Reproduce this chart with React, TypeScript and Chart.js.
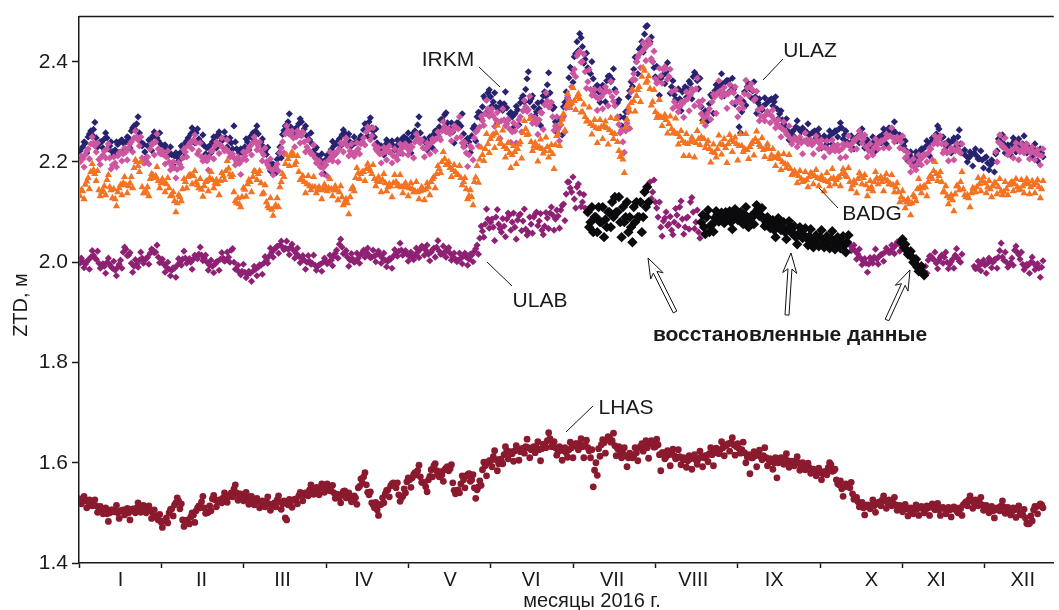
import React, { useEffect, useRef } from 'react';
import { Chart, registerables } from 'chart.js';

Chart.register(...registerables);

const _ = null;

// ---------- axis tick labels ----------
const MONTHS = ['I', 'II', 'III', 'IV', 'V', 'VI', 'VII', 'VIII', 'IX', 'X', 'XI', 'XII'];
const MONTH_LABEL_DAYS = [15, 45, 75, 105, 137, 167, 197, 227, 257, 293, 317, 349];
const Y_TICKS = [1.4, 1.6, 1.8, 2.0, 2.2, 2.4];

// ---------- ZTD values, mm; first sample of each day (day 0 .. 356) ----------
const IRKM = [
  2222,2230,2238,2250,2262,2265,2248,2236,2240,2246,2248,2232,2220,2224,2235,2242,2238,2240,2248,2262,2272,2276,2258,2232,2220,2232,2245,2252,2254,2242,2235,
  2232,2226,2220,2214,2212,2210,2218,2228,2238,2248,2256,2260,2258,2246,2238,2232,2228,2232,2240,2248,2254,2250,2246,2248,2244,2238,2272,2226,2218,2222,
  2230,2240,2250,2258,2262,2256,2240,2230,2215,2200,2192,2190,2205,2230,2255,2272,2280,2270,2262,2268,2276,2280,2266,2252,2244,2236,2225,2212,2204,2198,2205,
  2215,2225,2232,2238,2246,2254,2258,2250,2240,2236,2238,2242,2252,2264,2274,2280,2268,2250,2238,2230,2228,2234,2240,2236,2232,2230,2236,2244,2250,2246,
  2240,2250,2262,2274,2258,2244,2238,2240,2248,2256,2262,2270,2285,2294,2278,2266,2260,2270,2278,2272,2256,2244,2240,2252,2272,2290,2298,2310,2326,2338,2330,
  2320,2310,2306,2312,2316,2308,2296,2290,2296,2304,2318,2332,2345,2380,2326,2310,2300,2306,2320,2340,2354,2338,2306,2280,2270,2284,2310,2340,2368,2386,
  2410,2440,2456,2430,2405,2388,2376,2366,2350,2340,2338,2350,2362,2372,2365,2345,2318,2290,2270,2300,2330,2360,2385,2400,2425,2440,2455,2472,2440,2400,2370,
  2360,2366,2374,2380,2370,2350,2334,2322,2326,2340,2350,2346,2356,2370,2374,2346,2310,2296,2300,2316,2330,2342,2348,2352,2356,2360,2362,2352,2345,2320,2270,
  2300,2340,2350,2346,2342,2330,2318,2310,2312,2316,2322,2326,2320,2306,2296,2284,2272,2262,2256,2262,2270,2266,2260,2264,2260,2254,2258,2262,2256,2248,
  2246,2244,2248,2254,2258,2262,2266,2268,2254,2240,2236,2242,2246,2252,2256,2248,2238,2234,2236,2240,2244,2250,2254,2258,2260,2262,2264,2258,2252,2246,2232,
  2222,2214,2208,2206,2214,2222,2226,2230,2234,2240,2248,2256,2266,2248,2236,2232,2238,2242,2240,2250,2236,2220,2212,2208,2214,2218,2212,2206,2204,2208,
  2198,2194,2200,2216,2246,2240,2236,2230,2226,2236,2242,2238,2232,2236,2234,2226,2224,2226,2222,2220,2218,
];
// second (12-hour) sample of each day
const IRKM_B = [
  2208,2240,2218,2256,2254,2279,2230,2240,2228,2258,2226,2240,2214,2240,2219,2244,2224,2250,2228,2268,2264,2290,2240,2236,2208,2244,2223,2260,2248,2258,2219,
  2234,2212,2230,2194,2218,2202,2232,2210,2242,2236,2268,2238,2266,2240,2254,2216,2230,2218,2250,2228,2260,2242,2260,2230,2248,2226,2240,2204,2226,2216,
  2246,2224,2252,2244,2272,2236,2246,2222,2229,2182,2196,2178,2217,2208,2263,2266,2296,2254,2264,2254,2286,2260,2272,2244,2258,2218,2229,2200,2216,2176,2213,
  2209,2241,2216,2240,2232,2264,2238,2256,2232,2250,2220,2246,2240,2276,2252,2288,2262,2266,2222,2232,2214,2244,2220,2242,2224,2244,2218,2248,2238,2258,
  2218,2258,2256,2290,2242,2246,2224,2250,2228,2262,2254,2284,2267,2298,2266,2278,2238,2278,2269,2296,2232,2247,2219,2267,2242,2299,2286,2331,2299,2344,2312,
  2338,2277,2318,2303,2340,2284,2299,2269,2311,2274,2327,2320,2366,2320,2332,2292,2318,2273,2332,2331,2378,2314,2309,2259,2285,2254,2319,2328,2389,2359,
  2416,2422,2448,2397,2417,2379,2400,2342,2353,2319,2353,2320,2371,2360,2386,2318,2324,2272,2288,2267,2342,2351,2409,2376,2428,2419,2470,2442,2449,2388,2391,
  2333,2372,2356,2398,2337,2362,2325,2346,2302,2343,2329,2361,2326,2379,2362,2367,2283,2302,2282,2334,2297,2354,2339,2376,2332,2363,2341,2367,2315,2329,2258,
  2321,2313,2356,2328,2360,2297,2326,2304,2328,2300,2324,2312,2330,2286,2302,2276,2286,2244,2260,2250,2282,2244,2268,2258,2276,2238,2260,2248,2266,2228,
  2252,2236,2262,2236,2262,2250,2278,2246,2262,2234,2252,2226,2248,2238,2266,2228,2244,2226,2250,2222,2248,2238,2266,2236,2268,2256,2280,2242,2254,2232,2242,
  2202,2220,2200,2220,2196,2226,2214,2242,2212,2248,2242,2272,2250,2250,2222,2242,2218,2248,2232,2264,2218,2224,2200,2220,2192,2226,2206,2222,2188,2210,
  2184,2204,2180,2222,2238,2254,2218,2234,2214,2248,2220,2246,2226,2252,2218,2228,2210,2236,2202,2226,2210,
];

const ULAZ = [
  2200,2206,2214,2226,2236,2238,2220,2205,2210,2222,2226,2208,2194,2198,2212,2220,2216,2220,2228,2240,2248,2250,2232,2208,2198,2210,2226,2236,2240,2226,2216,
  2214,2210,2200,2192,2188,2185,2195,2208,2220,2232,2240,2244,2238,2222,2210,2204,2202,2210,2222,2232,2237,2234,2228,2226,2220,2212,2208,2200,2197,2204,
  2212,2222,2232,2238,2240,2232,2222,2214,2200,2188,2184,2186,2196,2218,2240,2256,2263,2256,2248,2250,2254,2252,2240,2230,2222,2216,2208,2198,2190,2188,2194,
  2204,2210,2212,2218,2226,2236,2240,2232,2222,2217,2220,2226,2236,2248,2260,2266,2252,2234,2222,2216,2217,2220,2224,2218,2212,2210,2218,2226,2232,2228,
  2222,2230,2240,2248,2238,2228,2226,2232,2238,2242,2246,2250,2262,2270,2262,2256,2262,2270,2266,2250,2230,2218,2214,2228,2248,2262,2270,2282,2296,2306,2300,
  2292,2284,2280,2282,2284,2276,2266,2260,2262,2272,2290,2302,2310,2304,2292,2282,2276,2284,2298,2314,2322,2310,2290,2272,2266,2274,2290,2308,2322,2350,
  2385,2412,2420,2400,2380,2360,2345,2336,2330,2326,2330,2338,2342,2340,2330,2312,2290,2258,2240,2262,2300,2340,2376,2400,2415,2420,2426,2432,2436,2400,2366,
  2360,2372,2384,2386,2370,2340,2320,2312,2310,2316,2322,2326,2334,2342,2346,2320,2296,2288,2292,2306,2320,2330,2338,2342,2340,2334,2336,2342,2338,2320,2306,
  2316,2336,2348,2350,2344,2326,2304,2292,2290,2294,2296,2292,2284,2276,2270,2266,2262,2254,2246,2244,2244,2240,2238,2242,2244,2238,2234,2240,2242,2236,
  2230,2228,2226,2226,2232,2230,2222,2226,2232,2236,2232,2238,2244,2250,2254,2246,2230,2222,2220,2228,2236,2238,2242,2246,2250,2252,2248,2244,2246,2240,2224,
  2210,2200,2192,2190,2196,2204,2210,2214,2218,2226,2236,2244,2246,2236,2224,2218,2220,2224,2222,2226,2218,_,_,_,_,_,_,_,_,_,
  _,_,_,2220,2240,2236,2230,2224,2218,2222,2228,2226,2220,2226,2230,2224,2218,2220,2216,2214,2212,
];
const ULAZ_B = [
  2212,2190,2222,2206,2250,2232,2238,2195,2214,2208,2236,2186,2210,2190,2218,2202,2228,2204,2236,2220,2262,2244,2250,2198,2202,2196,2236,2214,2256,2218,2222,
  2196,2222,2184,2200,2168,2199,2189,2226,2210,2236,2226,2254,2216,2238,2202,2210,2184,2222,2206,2240,2217,2248,2222,2244,2210,2216,2194,2210,2175,2220,
  2204,2228,2214,2250,2224,2240,2202,2228,2194,2206,2174,2190,2182,2228,2218,2272,2255,2262,2230,2262,2238,2260,2220,2244,2216,2234,2198,2202,2176,2198,2172,
  2220,2202,2218,2200,2238,2220,2248,2212,2236,2211,2238,2216,2240,2234,2270,2244,2268,2226,2228,2198,2229,2204,2232,2198,2226,2204,2236,2216,2236,2214,
  2232,2208,2256,2240,2244,2210,2238,2216,2246,2222,2260,2244,2280,2260,2266,2242,2272,2248,2290,2238,2239,2191,2232,2204,2260,2232,2291,2273,2323,2291,2306,
  2271,2299,2247,2306,2272,2285,2239,2278,2238,2284,2260,2323,2301,2331,2277,2288,2255,2299,2265,2338,2310,2319,2263,2290,2242,2286,2260,2329,2313,2377,
  2370,2418,2399,2415,2347,2384,2333,2345,2303,2344,2306,2350,2312,2361,2321,2339,2275,2264,2219,2277,2267,2364,2364,2409,2388,2438,2402,2444,2406,2421,2357,
  2387,2357,2390,2365,2385,2307,2344,2300,2319,2289,2340,2302,2346,2312,2367,2311,2323,2273,2298,2285,2335,2297,2362,2330,2349,2307,2354,2318,2350,2290,2327,
  2307,2363,2333,2356,2323,2341,2282,2308,2282,2300,2278,2304,2268,2284,2250,2280,2256,2272,2236,2248,2230,2250,2216,2258,2236,2244,2216,2252,2226,2244,
  2210,2242,2220,2244,2222,2234,2208,2236,2210,2252,2224,2244,2226,2262,2238,2254,2210,2236,2214,2246,2226,2242,2228,2256,2228,2268,2240,2250,2228,2252,2208,
  2218,2180,2206,2184,2214,2194,2214,2200,2228,2204,2252,2236,2252,2218,2236,2202,2228,2204,2236,2220,2236,_,_,_,_,_,_,_,_,_,
  _,_,_,2200,2254,2230,2248,2214,2222,2208,2238,2204,2236,2218,2236,2206,2230,2204,2224,2194,2226,
];

const BADG = [
  2132,2142,2155,2168,2180,2184,2162,2144,2140,2152,2164,2150,2128,2126,2140,2154,2158,2154,2152,2170,2188,2200,2180,2150,2138,2150,2166,2174,2172,2162,2158,
  2160,2156,2148,2134,2122,2118,2130,2146,2160,2170,2174,2172,2160,2148,2145,2152,2162,2168,2164,2158,2156,2162,2172,2182,2187,2170,2140,2118,2116,2130,
  2145,2156,2160,2170,2180,2176,2158,2138,2120,2108,2105,2110,2128,2150,2176,2196,2206,2212,2214,2200,2180,2166,2160,2156,2152,2150,2150,2146,2144,2145,2148,
  2148,2146,2144,2144,2140,2130,2120,2118,2130,2150,2168,2178,2176,2180,2186,2188,2176,2166,2162,2160,2164,2158,2150,2152,2158,2160,2154,2150,2154,2150,
  2148,2146,2142,2140,2142,2144,2146,2150,2160,2170,2176,2186,2200,2206,2196,2188,2184,2180,2174,2168,2160,2146,2132,2130,2160,2192,2205,2214,2226,2236,2246,
  2255,2258,2246,2236,2230,2226,2218,2214,2220,2226,2240,2258,2266,2256,2240,2232,2228,2230,2226,2222,2230,2222,2216,2234,2256,2276,2296,2312,2320,2318,
  2322,2330,2326,2300,2290,2282,2276,2272,2268,2266,2270,2272,2268,2264,2258,2256,2240,2210,2205,2270,2310,2318,2322,2332,2350,2370,2382,2362,2346,2320,2300,
  2294,2290,2288,2284,2276,2266,2260,2256,2250,2242,2238,2236,2240,2242,2238,2246,2250,2246,2236,2226,2220,2218,2226,2236,2234,2228,2236,2244,2240,2236,2232,
  2232,2226,2224,2230,2240,2246,2240,2230,2224,2228,2226,2214,2208,2210,2206,2200,2196,2194,2186,2178,2176,2172,2166,2162,2164,2170,2176,2172,2168,2166,
  2164,2162,2160,2166,2168,2164,2170,2176,2178,2170,2160,2154,2158,2166,2172,2168,2154,2146,2150,2160,2168,2166,2160,2166,2162,2156,2154,2150,2140,2130,2124,
  2120,2116,2118,2130,2146,2150,2148,2150,2160,2172,2182,2176,2172,2160,2140,2132,2128,2124,2136,2152,2160,2146,2130,2128,2138,2146,2150,2156,2162,2158,
  2150,2146,2152,2158,2150,2142,2140,2146,2154,2160,2156,2150,2146,2152,2158,2156,2150,2154,2158,2150,2146,
];
const BADG_B = [
  2144,2126,2161,2146,2196,2176,2182,2132,2144,2134,2174,2144,2146,2112,2148,2134,2170,2138,2158,2148,2204,2192,2200,2138,2142,2132,2176,2168,2190,2148,2166,
  2140,2168,2132,2140,2100,2134,2122,2166,2148,2174,2156,2182,2154,2166,2131,2160,2142,2180,2148,2164,2134,2178,2164,2202,2175,2174,2122,2128,2110,2148,
  2131,2164,2140,2182,2164,2182,2136,2154,2112,2128,2093,2114,2110,2160,2170,2214,2192,2220,2194,2212,2164,2172,2138,2172,2144,2170,2138,2150,2126,2155,2142,
  2166,2132,2152,2124,2152,2114,2126,2096,2146,2142,2188,2166,2180,2162,2196,2182,2194,2152,2170,2140,2176,2142,2156,2130,2174,2152,2174,2138,2158,2132,
  2158,2140,2160,2126,2150,2124,2158,2134,2166,2148,2192,2178,2220,2194,2200,2170,2194,2174,2192,2154,2168,2126,2144,2114,2169,2159,2229,2202,2256,2218,2252,
  2228,2273,2237,2263,2209,2238,2188,2232,2196,2235,2207,2282,2254,2286,2222,2238,2201,2245,2217,2249,2209,2234,2186,2252,2232,2285,2263,2336,2308,2348,
  2304,2336,2299,2315,2281,2309,2255,2284,2238,2284,2246,2281,2235,2288,2246,2286,2222,2216,2178,2285,2301,2345,2301,2344,2320,2388,2358,2371,2313,2344,2288,
  2324,2272,2294,2257,2291,2257,2287,2235,2262,2212,2256,2212,2249,2209,2262,2234,2280,2228,2242,2199,2235,2209,2253,2215,2246,2198,2254,2220,2249,2203,2256,
  2220,2256,2206,2236,2213,2261,2234,2248,2210,2236,2206,2226,2192,2216,2184,2216,2188,2214,2174,2182,2158,2182,2160,2180,2150,2178,2156,2184,2152,2172,
  2142,2178,2152,2186,2156,2168,2152,2186,2172,2188,2146,2162,2138,2178,2156,2174,2132,2162,2142,2180,2156,2170,2142,2176,2156,2174,2140,2158,2120,2142,2108,
  2126,2094,2134,2122,2166,2138,2152,2132,2170,2166,2200,2162,2180,2140,2152,2116,2134,2102,2152,2144,2180,2134,2134,2110,2148,2140,2168,2142,2170,2138,
  2162,2130,2158,2136,2166,2134,2160,2134,2158,2142,2166,2144,2164,2138,2166,2136,2162,2138,2164,2128,2162,
];

const ULAB = [
  1998,2002,1996,2004,2010,2014,2006,1998,1994,1992,2000,1996,1988,1984,1990,2004,2020,2026,2014,1998,1992,1996,2004,2008,2004,2010,2018,2024,2020,2010,2000,
  1996,1990,1986,1984,1988,1994,2000,2006,2008,2004,2000,2006,2012,2016,2014,2008,2000,1994,1992,1996,2002,2006,2008,2004,2010,2024,2000,1986,1980,1982,
  1980,1976,1978,1982,1986,1990,1994,1998,2004,2012,2020,2026,2032,2034,2030,2028,2026,2030,2024,2018,2012,2008,2004,2000,2002,1998,1994,1992,1996,2000,2002,
  2000,2004,2012,2024,2036,2030,2018,2010,2004,2006,2002,2008,2016,2024,2020,2014,2010,2012,2016,2014,2008,2004,2002,2006,2012,2018,2022,2024,2020,2016,
  2012,2010,2014,2020,2026,2030,2024,2016,2020,2028,2030,2022,2016,2020,2026,2018,2010,2006,2004,2008,2012,2010,2006,2014,2022,2034,2048,2062,2076,2086,2080,
  2070,2090,2076,2060,2072,2086,2094,2080,2070,2084,2096,2082,2066,2060,2076,2090,2100,2082,2064,2072,2088,2098,2094,2086,2092,2104,2116,2136,2160,2140,
  2126,2150,2138,2120,2108,_,_,_,_,_,_,_,_,_,_,_,_,_,_,_,_,_,_,_,_,_,_,_,2160,2140,2120,
  2090,2070,2082,2100,2076,2064,2080,2094,2110,2086,2070,2090,2120,2100,2080,2060,_,_,_,_,_,_,_,_,_,_,_,_,_,_,_,
  _,_,_,_,_,_,_,_,_,_,_,_,_,_,_,_,_,_,_,_,_,_,_,_,_,_,_,_,_,_,
  _,_,_,_,_,_,_,_,_,_,2034,2028,2022,2016,2008,2002,1998,1996,2004,2010,2006,2012,2016,2020,2024,2020,2028,2034,2038,_,_,
  _,_,_,_,_,_,_,1992,2004,2012,2006,1998,2004,2014,2010,2000,1996,2006,2014,2008,2000,_,_,_,_,1992,1988,1994,1998,1994,
  1998,2002,2000,2006,2010,2038,2004,2000,1996,2008,2024,2020,2006,1996,1990,1994,2000,1998,1992,1988,1990,
];
const ULAB_B = [
  2008,1989,2001,1986,2023,2008,2022,1988,1997,1978,2008,1991,2002,1973,1996,1988,2030,2013,2019,1980,2005,1990,2020,1998,2007,1996,2026,2019,2034,1999,2006,
  1980,2000,1973,1989,1970,2007,1994,2022,1998,2007,1986,2014,2007,2030,2003,2014,1984,2004,1979,2001,1984,2019,2002,2020,2000,2027,1986,1994,1975,1996,
  1969,1982,1962,1992,1973,1995,1976,2011,1998,2028,2010,2029,2018,2042,2025,2042,2015,2036,2008,2028,1999,2013,1986,2013,1996,2014,1984,1995,1982,2008,1997,
  2014,1993,2018,2008,2046,2017,2023,1992,2017,2000,2018,1998,2019,2010,2028,2009,2024,2001,2022,1998,2018,1991,2007,1988,2025,2012,2038,2014,2023,2002,
  2020,2005,2028,2009,2032,2014,2034,2003,2025,2010,2043,2016,2032,2010,2029,2004,2018,2001,2018,1997,2018,1994,2016,2001,2027,2016,2072,2050,2106,2068,2086,
  2043,2105,2067,2087,2051,2098,2064,2098,2046,2093,2063,2106,2054,2090,2058,2096,2073,2097,2055,2099,2067,2110,2064,2104,2068,2113,2083,2160,2148,2170,
  2108,2156,2111,2135,2099,_,_,_,_,_,_,_,_,_,_,_,_,_,_,_,_,_,_,_,_,_,_,_,2127,2164,2108,
  2120,2052,2088,2073,2091,2055,2107,2073,2122,2056,2088,2066,2129,2067,2104,2048,_,_,_,_,_,_,_,_,_,_,_,_,_,_,_,
  _,_,_,_,_,_,_,_,_,_,_,_,_,_,_,_,_,_,_,_,_,_,_,_,_,_,_,_,_,_,
  _,_,_,_,_,_,_,_,_,_,2023,2034,2006,2026,1995,2007,1980,2009,1998,2026,1996,2015,2002,2028,2019,2034,2017,2040,2022,_,_,
  _,_,_,_,_,_,_,1978,2012,2007,2020,1987,2010,1998,2020,1987,2001,1988,2027,2002,2016,_,_,_,_,1987,2002,1983,2004,1978,
  2008,1989,2005,1988,2023,2010,2020,1990,1999,1994,2032,2015,2020,1985,1996,1978,2010,1985,1997,1970,2003,
];

// restored (reconstructed) ULAB values, with the day each block starts
const REST_JUL_FROM = 188;
const REST_JUL = [2100,2080,2060,2090,2110,2080,2050,2070,2100,2120,2130,2100,2080,2110,2090,2060,2070,2110,2120,2090,2060,2140,2150];
const REST_JUL_B = [2070,2110,2090,2060,2080,2110,2085,2100,2070,2090,2100,2130,2050,2080,2120,2090,2040,2080,2090,2120,2090,2110,2120];
const REST_AUG_FROM = 230;
const REST_AUG = [
  2080,2070,2090,2060,2075,2088,2095,2085,2092,2100,2088,2080,2092,2098,2086,2090,2096,2084,2078,2090,
  2100,2106,2094,2086,2076,2082,2070,2064,2074,2078,2066,2060,2068,2072,2058,2050,2056,2062,2054,2048,
  2052,2044,2040,2046,2050,2044,2038,2042,2048,2040,2036,2042,2038,2034,2040,
];
const REST_AUG_B = [
  2094,2056,2104,2074,2061,2102,2081,2099,2078,2086,2102,2066,2106,2084,2100,2076,2110,2070,2092,2076,
  2114,2092,2108,2072,2090,2068,2084,2050,2088,2064,2080,2046,2082,2058,2072,2036,2070,2048,2068,2034,
  2066,2030,2054,2032,2064,2030,2052,2028,2062,2026,2050,2028,2052,2020,2054,
];
const REST_OCT_FROM = 304;
const REST_OCT = [2040,2030,2024,2016,2010,1998,1990,1984,1980];
const REST_OCT_B = [2046,2036,2016,2022,2000,2006,1982,1992,1974];

const LHAS = [
  1528,1526,1524,1522,1520,1516,1514,1510,1506,1502,1498,1500,1506,1504,1500,1504,1506,1502,1500,1504,1506,1510,1514,1512,1508,1506,1504,1500,1494,1486,1482,
  1484,1490,1500,1508,1516,1530,1508,1486,1482,1486,1492,1496,1504,1514,1522,1510,1500,1514,1528,1526,1522,1526,1530,1534,1532,1540,1548,1540,1532,1528,
  1530,1528,1532,1526,1522,1524,1520,1518,1522,1518,1514,1520,1526,1522,1518,1490,1516,1522,1526,1528,1534,1538,1536,1540,1546,1550,1548,1544,1550,1556,1552,
  1548,1544,1540,1536,1530,1536,1544,1536,1528,1524,1530,1550,1568,1572,1556,1536,1520,1510,1506,1516,1530,1538,1546,1554,1560,1550,1536,1530,1548,1562,
  1566,1570,1580,1584,1572,1560,1552,1566,1586,1594,1584,1572,1576,1586,1592,1588,1560,1538,1546,1558,1566,1574,1578,1566,1550,1546,1564,1586,1594,1600,1604,
  1612,1606,1598,1604,1616,1624,1620,1618,1624,1626,1622,1628,1632,1630,1626,1632,1630,1626,1628,1636,1644,1648,1640,1630,1622,1626,1624,1620,1626,1630,
  1634,1638,1636,1632,1636,1630,1610,1552,1600,1628,1636,1640,1646,1650,1644,1634,1628,1622,1618,1614,1610,1616,1614,1620,1630,1638,1634,1630,1638,1640,1632,
  1636,1584,1620,1612,1616,1618,1614,1610,1612,1608,1606,1604,1608,1610,1606,1608,1612,1610,1614,1618,1616,1620,1624,1626,1630,1634,1638,1640,1636,1632,1628,
  1626,1620,1612,1578,1610,1614,1616,1612,1614,1610,1606,1602,1600,1570,1604,1606,1608,1604,1600,1602,1604,1600,1594,1590,1588,1590,1586,1584,1582,1580,
  1578,1582,1590,1596,1584,1566,1556,1548,1552,1556,1550,1538,1530,1522,1514,1510,1512,1514,1516,1514,1518,1522,1526,1524,1520,1518,1520,1516,1514,1512,1510,
  1508,1506,1504,1506,1508,1510,1508,1506,1510,1512,1510,1508,1506,1510,1508,1504,1506,1508,1510,1500,1508,1516,1522,1526,1524,1520,1518,1520,1516,1514,
  1510,1506,1504,1506,1510,1514,1512,1508,1504,1502,1506,1508,1500,1496,1490,1478,1494,1506,1512,1514,1516,
];
const LHAS_B = [
  1518,1533,1510,1526,1514,1526,1501,1513,1498,1510,1483,1506,1502,1515,1489,1505,1496,1509,1486,1508,1500,1520,1501,1515,1500,1514,1489,1506,1490,1497,1471,
  1485,1480,1507,1494,1520,1524,1518,1473,1485,1478,1500,1481,1510,1510,1533,1499,1501,1504,1535,1512,1526,1520,1540,1521,1535,1532,1556,1525,1538,1524,
  1541,1517,1533,1516,1529,1510,1524,1512,1532,1505,1517,1512,1534,1507,1524,1486,1527,1511,1527,1518,1541,1524,1540,1534,1556,1537,1551,1536,1558,1541,1558,
  1544,1555,1529,1537,1520,1543,1530,1540,1522,1534,1517,1553,1560,1580,1541,1542,1516,1521,1495,1517,1520,1545,1532,1558,1554,1560,1523,1533,1540,1570,
  1551,1576,1576,1595,1561,1561,1542,1573,1572,1598,1578,1582,1563,1589,1584,1596,1545,1544,1540,1574,1550,1576,1563,1576,1529,1552,1555,1601,1574,1604,1592,
  1624,1584,1607,1598,1632,1608,1622,1603,1634,1605,1628,1619,1647,1610,1630,1620,1642,1604,1637,1630,1660,1632,1642,1615,1632,1605,1630,1611,1641,1610,
  1638,1626,1648,1610,1645,1624,1626,1585,1575,1613,1646,1619,1652,1641,1659,1614,1632,1610,1630,1592,1619,1610,1630,1604,1632,1623,1644,1609,1644,1631,1647,
  1616,1620,1608,1624,1594,1627,1608,1626,1596,1610,1591,1614,1587,1616,1597,1623,1592,1614,1602,1630,1594,1629,1618,1642,1614,1636,1623,1650,1615,1638,1619,
  1641,1600,1616,1610,1622,1592,1625,1606,1630,1594,1608,1587,1610,1600,1610,1597,1618,1591,1603,1594,1612,1585,1600,1586,1599,1579,1587,1574,1589,1566,
  1582,1576,1600,1583,1587,1558,1564,1533,1558,1552,1561,1527,1531,1512,1521,1496,1516,1508,1526,1501,1521,1514,1534,1509,1526,1514,1531,1505,1515,1502,1517,
  1494,1510,1498,1516,1495,1513,1500,1514,1495,1518,1506,1519,1495,1511,1498,1511,1492,1512,1504,1510,1495,1519,1514,1534,1509,1526,1514,1531,1505,1515,
  1500,1513,1490,1510,1504,1524,1499,1511,1496,1510,1491,1514,1496,1507,1479,1479,1484,1513,1498,1518,1510,
];

// ---------- layout / style ----------
const W = 1059;
const H = 610;
const FONT = '"Liberation Sans", Arial, Helvetica, sans-serif';
const INK = '#1a1a1a';
const X_MIN = -0.37;
const X_MAX = 360.5;
const MONTH_SPAN = 30.49;

function toPoints(arr: (number | null)[], start = 0) {
  const out: { x: number; y: number }[] = [];
  arr.forEach((v, i) => {
    if (v !== null) out.push({ x: start + i, y: v / 1000 });
  });
  return out;
}

function both(a: (number | null)[], b: (number | null)[], start = 0) {
  return [...toPoints(a, start), ...toPoints(b, start + 0.5)];
}

function hollowArrow(ctx: CanvasRenderingContext2D, x1: number, y1: number, x2: number, y2: number) {
  const dx = x2 - x1;
  const dy = y2 - y1;
  const L = Math.hypot(dx, dy);
  const ux = dx / L;
  const uy = dy / L;
  const nx = -uy;
  const ny = ux;
  const headL = 20;
  const headW = 7;
  const notch = 4;
  const shaftW = 2;
  const bx = x2 - ux * headL;
  const by = y2 - uy * headL;
  const ix = x2 - ux * (headL - notch);
  const iy = y2 - uy * (headL - notch);
  ctx.save();
  ctx.beginPath();
  ctx.moveTo(x2, y2);
  ctx.lineTo(bx + nx * headW, by + ny * headW);
  ctx.lineTo(ix + nx * shaftW, iy + ny * shaftW);
  ctx.lineTo(x1 + nx * shaftW, y1 + ny * shaftW);
  ctx.lineTo(x1 - nx * shaftW, y1 - ny * shaftW);
  ctx.lineTo(ix - nx * shaftW, iy - ny * shaftW);
  ctx.lineTo(bx - nx * headW, by - ny * headW);
  ctx.closePath();
  ctx.fillStyle = '#ffffff';
  ctx.fill();
  ctx.lineWidth = 1;
  ctx.strokeStyle = '#111111';
  ctx.stroke();
  ctx.restore();
}

const annotationPlugin = {
  id: 'ztdAnnotations',
  afterDatasetsDraw(chart: any) {
    const ctx: CanvasRenderingContext2D = chart.ctx;
    const area = chart.chartArea;
    ctx.save();
    // top frame line
    ctx.strokeStyle = INK;
    ctx.lineWidth = 1.5;
    ctx.beginPath();
    ctx.moveTo(area.left, area.top);
    ctx.lineTo(area.right, area.top);
    ctx.stroke();

    ctx.fillStyle = INK;
    ctx.font = `21px ${FONT}`;
    ctx.textAlign = 'center';
    ctx.textBaseline = 'alphabetic';
    const labels = [
      { t: 'IRKM', x: 448, y: 66, l: [479, 67, 500, 87] },
      { t: 'ULAZ', x: 810, y: 57, l: [783, 59, 763, 80] },
      { t: 'BADG', x: 872, y: 220, l: [838, 208, 819, 188] },
      { t: 'ULAB', x: 540, y: 307, l: [512, 286, 487, 262] },
      { t: 'LHAS', x: 626, y: 414, l: [593, 406, 566, 432] },
    ];
    ctx.lineWidth = 1;
    for (const a of labels) {
      ctx.fillText(a.t, a.x, a.y);
      ctx.beginPath();
      ctx.moveTo(a.l[0], a.l[1]);
      ctx.lineTo(a.l[2], a.l[3]);
      ctx.stroke();
    }

    hollowArrow(ctx, 675, 312, 648, 258);
    hollowArrow(ctx, 787, 315, 791, 253);
    hollowArrow(ctx, 887, 320, 910, 270);

    ctx.fillStyle = INK;
    ctx.font = `bold 21px ${FONT}`;
    ctx.fillText('восстановленные данные', 790, 341);

    // axis titles
    ctx.font = `20px ${FONT}`;
    ctx.fillText('месяцы 2016 г.', 592, 607);
    ctx.translate(27, 305);
    ctx.rotate(-Math.PI / 2);
    ctx.fillText('ZTD, м', 0, 0);
    ctx.restore();
  },
};

export default function App() {
  const ref = useRef<HTMLCanvasElement | null>(null);

  useEffect(() => {
    document.body.style.margin = '0';
    const canvas = ref.current;
    if (!canvas) return;

    const boundaries = MONTHS.map((_m, k) => X_MIN + MONTH_SPAN * k);
    const xTicks = [...boundaries, ...MONTH_LABEL_DAYS].sort((a, b) => a - b);

    const restored = [
      ...both(REST_JUL, REST_JUL_B, REST_JUL_FROM),
      ...both(REST_AUG, REST_AUG_B, REST_AUG_FROM),
      ...both(REST_OCT, REST_OCT_B, REST_OCT_FROM),
    ];

    const common = { borderWidth: 0, pointBorderWidth: 0 };

    const chart = new Chart(canvas, {
      type: 'scatter',
      data: {
        datasets: [
          { label: 'LHAS', data: both(LHAS, LHAS_B), pointStyle: 'circle', pointRadius: 3.4, backgroundColor: '#8b1a2f', ...common },
          { label: 'restored', data: restored, pointStyle: 'rectRot', pointRadius: 5.2, backgroundColor: '#0b0b0e', ...common },
          { label: 'ULAB', data: both(ULAB, ULAB_B), pointStyle: 'rectRot', pointRadius: 3.6, backgroundColor: '#8e2174', ...common },
          { label: 'BADG', data: both(BADG, BADG_B), pointStyle: 'triangle', pointRadius: 4.2, backgroundColor: '#f47322', ...common },
          { label: 'ULAZ', data: both(ULAZ, ULAZ_B), pointStyle: 'rectRot', pointRadius: 3.6, backgroundColor: '#cc56a0', ...common },
          { label: 'IRKM', data: both(IRKM, IRKM_B), pointStyle: 'rectRot', pointRadius: 3.6, backgroundColor: '#272370', ...common },
        ] as any,
      },
      options: {
        responsive: false,
        animation: false,
        events: [],
        layout: { padding: { top: 11, left: 0, right: 0, bottom: 0 } },
        plugins: { legend: { display: false }, tooltip: { enabled: false } },
        scales: {
          x: {
            type: 'linear',
            min: X_MIN,
            max: X_MAX,
            afterFit: (s: any) => { s.height = 47; },
            afterBuildTicks: (s: any) => { s.ticks = xTicks.map((v) => ({ value: v })); },
            ticks: {
              autoSkip: false,
              maxRotation: 0,
              minRotation: 0,
              padding: 0,
              color: INK,
              font: { family: FONT, size: 20 },
              callback: (_v: any, i: number) => (i % 2 === 1 ? MONTHS[(i - 1) / 2] : ''),
            },
            grid: {
              drawOnChartArea: false,
              drawTicks: true,
              tickLength: 5,
              tickWidth: 1.5,
              tickColor: (c: any) => (c.index % 2 === 0 ? INK : 'rgba(0,0,0,0)'),
            },
            border: { display: true, color: INK, width: 1.5 },
          },
          y: {
            type: 'linear',
            min: 1.4,
            max: 2.49,
            afterFit: (s: any) => { s.width = 79; },
            afterBuildTicks: (s: any) => { s.ticks = Y_TICKS.map((v) => ({ value: v })); },
            ticks: {
              padding: 4,
              color: INK,
              font: { family: FONT, size: 21 },
              callback: (v: any) => Number(v).toFixed(1),
            },
            grid: { drawOnChartArea: false, drawTicks: true, tickLength: 7, tickWidth: 1.5, tickColor: INK },
            border: { display: true, color: INK, width: 1.5 },
          },
        },
      } as any,
      plugins: [annotationPlugin],
    });

    return () => chart.destroy();
  }, []);

  return (
    <div style={{ width: W, height: H, background: '#ffffff' }}>
      <canvas ref={ref} width={W} height={H} style={{ display: 'block' }} />
    </div>
  );
}
